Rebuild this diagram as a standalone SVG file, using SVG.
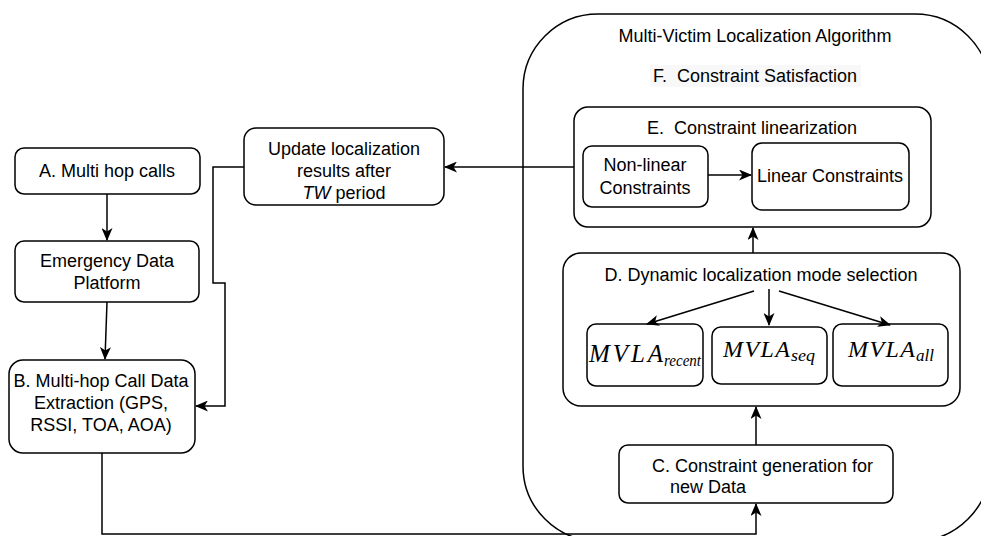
<svg xmlns="http://www.w3.org/2000/svg" width="981" height="536" viewBox="0 0 981 536">
<style>
  .box { fill: #ffffff; stroke: #000000; stroke-width: 1.5; }
  .lbl { font-family: "Liberation Sans", Arial, sans-serif; font-size: 18px; fill: #000000; }
  .c { text-anchor: middle; }
  .math { font-family: "Liberation Serif", "Times New Roman", serif; font-style: italic; fill: #000000; }
  .edge { fill: none; stroke: #000000; stroke-width: 1.5; }
</style>
<defs>
  <marker id="arr" markerUnits="userSpaceOnUse" markerWidth="13" markerHeight="11" viewBox="0 0 13 11" refX="12" refY="5.5" orient="auto">
    <path d="M0,0 L13,5.5 L0,11 L3.5,5.5 z" fill="#000000"/>
  </marker>
</defs>
<rect width="981" height="536" fill="#ffffff"/>

<g id="mvla-container">
  <rect class="box" x="523" y="14" width="467" height="527" rx="75" ry="75"/>
  <text class="lbl c" x="755" y="42">Multi-Victim Localization Algorithm</text>
</g>

<g id="f-label">
  <rect x="650" y="65" width="211" height="22" fill="#f8f8f8"/>
  <text class="lbl c" x="755" y="82" xml:space="preserve">F.  Constraint Satisfaction</text>
</g>

<g id="node-a">
  <rect class="box" x="15" y="148" width="185" height="46" rx="9"/>
  <text class="lbl c" x="107" y="177">A. Multi hop calls</text>
</g>

<g id="node-edp">
  <rect class="box" x="15" y="241" width="184" height="61" rx="9"/>
  <text class="lbl c" x="107" y="267">Emergency Data</text>
  <text class="lbl c" x="107" y="289">Platform</text>
</g>

<g id="node-b">
  <rect class="box" x="9" y="360" width="186" height="93" rx="14"/>
  <text class="lbl c" x="101" y="387">B. Multi-hop Call Data</text>
  <text class="lbl c" x="101" y="409">Extraction (GPS,</text>
  <text class="lbl c" x="101" y="431">RSSI, TOA, AOA)</text>
</g>

<g id="node-update">
  <rect class="box" x="244" y="128" width="200" height="77" rx="12"/>
  <text class="lbl c" x="344" y="155">Update localization</text>
  <text class="lbl c" x="344" y="177">results after</text>
  <text class="lbl c" x="344" y="199"><tspan font-style="italic">TW</tspan> period</text>
</g>

<g id="node-e">
  <rect class="box" x="574" y="107" width="357" height="120" rx="14"/>
  <text class="lbl c" x="752" y="134" xml:space="preserve">E.  Constraint linearization</text>
</g>

<g id="node-nonlinear">
  <rect class="box" x="583" y="146" width="125" height="61" rx="9"/>
  <text class="lbl c" x="645" y="171">Non-linear</text>
  <text class="lbl c" x="645" y="194">Constraints</text>
</g>

<g id="node-linear">
  <rect class="box" x="752" y="143" width="157" height="67" rx="10"/>
  <text class="lbl c" x="830" y="182">Linear Constraints</text>
</g>

<g id="node-d">
  <rect class="box" x="563" y="253" width="397" height="153" rx="18"/>
  <text class="lbl c" x="761" y="281">D. Dynamic localization mode selection</text>
</g>

<g id="node-mvla-recent">
  <rect class="box" x="587" y="324" width="116" height="62" rx="9"/>
  <text class="math" x="589" y="362" font-size="25" textLength="74" lengthAdjust="spacing">MVLA</text>
  <text class="math" x="664" y="366" font-size="16" textLength="37" lengthAdjust="spacingAndGlyphs">recent</text>
</g>

<g id="node-mvla-seq">
  <rect class="box" x="712" y="327" width="115" height="57" rx="9"/>
  <text class="math" x="723" y="357" font-size="24" textLength="67" lengthAdjust="spacing">MVLA</text>
  <text class="math" x="791" y="361" font-size="16" textLength="24" lengthAdjust="spacingAndGlyphs">seq</text>
</g>

<g id="node-mvla-all">
  <rect class="box" x="833" y="324" width="115" height="62" rx="9"/>
  <text class="math" x="848" y="357" font-size="24" textLength="67" lengthAdjust="spacing">MVLA</text>
  <text class="math" x="916" y="361" font-size="16" textLength="18" lengthAdjust="spacingAndGlyphs">all</text>
</g>

<g id="node-c">
  <rect class="box" x="619" y="445" width="274" height="58" rx="9"/>
  <text class="lbl" x="652" y="472">C. Constraint generation for</text>
  <text class="lbl" x="670" y="493">new Data</text>
</g>

<g id="connectors">
  <path class="edge" d="M107,194 L107,240" marker-end="url(#arr)"/>
  <path class="edge" d="M107,302 L105,359" marker-end="url(#arr)"/>
  <path class="edge" d="M102,453 L102,534 L756,534 L756,504" marker-end="url(#arr)"/>
  <path class="edge" d="M756,445 L756,407" marker-end="url(#arr)"/>
  <path class="edge" d="M753,253 L753,228" marker-end="url(#arr)"/>
  <path class="edge" d="M574,167 L445,167" marker-end="url(#arr)"/>
  <path class="edge" d="M244,167 L213,167 L213,283 L225,283 L225,406 L196,406" marker-end="url(#arr)"/>
  <path class="edge" d="M708,175 L751,175" marker-end="url(#arr)"/>
  <path class="edge" d="M754,291 L647,324" marker-end="url(#arr)"/>
  <path class="edge" d="M769,289 L769,325" marker-end="url(#arr)"/>
  <path class="edge" d="M779,291 L890,325" marker-end="url(#arr)"/>
</g>
</svg>
